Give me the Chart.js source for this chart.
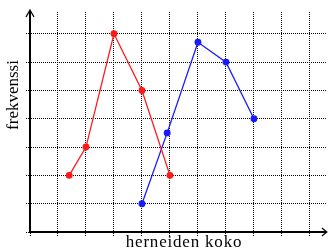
<!DOCTYPE html>
<html>
<head>
<meta charset="utf-8">
<script src="https://cdn.jsdelivr.net/npm/chart.js@4/dist/chart.umd.min.js"></script>
<style>
  html, body { margin: 0; padding: 0; background: #fff; }
  #wrap { width: 330px; height: 250px; }
</style>
</head>
<body>
<div id="wrap"><canvas id="myChart"></canvas></div>
<script>
// data (grid units)
const redX = [1.4, 2, 3, 4, 5];
const redY = [2, 3, 7, 5, 2];
const blueX = [4, 4.9, 6, 7, 8];
const blueY = [1, 3.5, 6.7, 6, 4];
const xTicks = [0, 1, 2, 3, 4, 5, 6, 7, 8, 9, 10];
const yTicks = [0, 1, 2, 3, 4, 5, 6, 7];
const xTitle = 'herneiden koko';
const yTitle = 'frekvenssi';

const toPoints = (xs, ys) => xs.map((x, i) => ({ x: x, y: ys[i] }));

const fixedTicks = (list) => (scale) => {
    scale.ticks = list.map((v) => ({ value: v }));
};

// axis arrows and titles
const axisDecor = {
    id: 'axisDecor',
    afterDraw(chart) {
        const { ctx, chartArea } = chart;
        const x0 = chartArea.left;
        const y0 = chartArea.bottom;
        ctx.save();
        ctx.strokeStyle = '#000';
        ctx.fillStyle = '#000';
        // up arrow
        ctx.lineWidth = 2;
        ctx.beginPath();
        ctx.moveTo(x0, chartArea.top - 1);
        ctx.lineTo(x0, y0);
        ctx.stroke();
        ctx.lineWidth = 1.3;
        ctx.beginPath();
        ctx.moveTo(x0 - 4, chartArea.top + 5);
        ctx.lineTo(x0, chartArea.top - 2);
        ctx.lineTo(x0 + 4, chartArea.top + 5);
        ctx.stroke();
        // right arrow
        ctx.lineWidth = 1.2;
        ctx.beginPath();
        ctx.moveTo(chartArea.right - 4, y0 - 4);
        ctx.lineTo(chartArea.right + 1, y0);
        ctx.lineTo(chartArea.right - 4, y0 + 4);
        ctx.stroke();

        ctx.font = '17px "Liberation Serif", serif';
        ctx.textAlign = 'center';
        ctx.textBaseline = 'alphabetic';
        ctx.letterSpacing = '0.8px';
        ctx.fillText(xTitle, 184, 247);
        ctx.letterSpacing = '0px';
        ctx.translate(18, 95);
        ctx.rotate(-Math.PI / 2);
        ctx.fillText(yTitle, 0, 0);
        ctx.restore();
    },
};

const gridOpts = {
    color: '#000',
    lineWidth: 1,
    drawTicks: true,
    tickLength: 4,
    tickBorderDash: [1, 1],
};

const config = {
    type: 'scatter',
    data: {
        datasets: [
            {
                data: toPoints(redX, redY),
                showLine: true,
                borderColor: '#ff1a1a',
                backgroundColor: '#ff1a1a',
                borderWidth: 1.3,
                pointRadius: 2.8,
                pointHoverRadius: 2.8,
            },
            {
                data: toPoints(blueX, blueY),
                showLine: true,
                borderColor: '#1a1aff',
                backgroundColor: '#1a1aff',
                borderWidth: 1.3,
                pointRadius: 2.8,
                pointHoverRadius: 2.8,
            },
        ],
    },
    options: {
        responsive: true,
        maintainAspectRatio: false,
        animation: false,
        layout: { padding: { left: 26, right: 2, top: 12, bottom: 14 } },
        plugins: { legend: { display: false }, tooltip: { enabled: false } },
        scales: {
            x: {
                type: 'linear',
                min: 0,
                max: 10.57,
                afterBuildTicks: fixedTicks(xTicks),
                ticks: { display: false },
                grid: gridOpts,
                border: { display: true, color: '#000', width: 2, dash: [1, 1] },
            },
            y: {
                type: 'linear',
                min: 0,
                max: 7.77,
                afterBuildTicks: fixedTicks(yTicks),
                ticks: { display: false },
                grid: gridOpts,
                border: { display: true, color: '#000', width: 2, dash: [1, 1] },
            },
        },
    },
    plugins: [axisDecor],
};

const myChart = new Chart(document.getElementById('myChart'), config);
</script>
</body>
</html>
